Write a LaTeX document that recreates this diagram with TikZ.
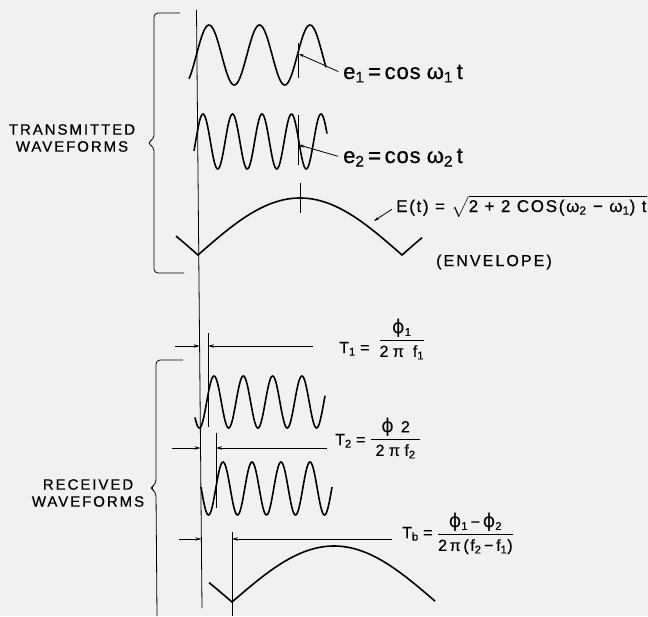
\documentclass[tikz,border=0pt]{standalone}
\usepackage{amsmath}
\usepackage{fontspec}
\setmainfont{Liberation Sans}[LetterSpace=4,FakeBold=0.6]
\newfontfamily\capsfont{Liberation Sans}[LetterSpace=13,FakeBold=0.6]
\newfontfamily\ratiofont{Liberation Sans}[LetterSpace=10,FakeBold=0.6]
\newfontfamily\grkfont{DejaVu Sans}
\usetikzlibrary{arrows.meta}
\definecolor{paper}{RGB}{241,241,240}
\newcommand{\sub}[1]{$_{\text{#1}}$}
\newcommand{\ph}{{\grkfont\fontsize{19}{19}\selectfont ϕ}}

\begin{document}
\begin{tikzpicture}[x=1pt,y=-1pt,
    wave/.style={line width=1.6pt},
    guide/.style={line width=0.8pt},
    dim/.style={line width=0.8pt,-{Stealth[length=6pt,width=3.5pt]}},
    leader/.style={line width=0.8pt,-{Stealth[length=5pt,width=3pt]},shorten <=5pt},
    caps/.style={align=center,font=\capsfont\fontsize{15}{17}\selectfont},
    formula/.style={inner sep=0pt,font=\fontsize{22}{24}\selectfont},
    ratio/.style={inner sep=0pt,font=\ratiofont\fontsize{16}{18}\selectfont}]
    \fill[paper] (0,0) rectangle (648,616);
    \useasboundingbox (0,0) rectangle (648,616);
    \draw[guide] (196.5,10) -- (202,608);
    \draw[guide,rounded corners=4pt] (180,13) -| (154,139) -- (147,143) -- (154,147) |- (184,273);
    \draw[guide,rounded corners=4pt] (183,360) -| (156,484) -- (150,488) -- (156,492) -- (157,616);
    \node[caps] (trans) at (72,138) {TRANSMITTED\\WAVEFORMS};
    \node[caps] (recv) at (88,493) {RECEIVED\\WAVEFORMS};

    \draw[wave] plot[domain=189:326,samples=120] (\x,{55-30*cos((\x-209)/50.5*360)});
    \draw[wave] plot[domain=194:327,samples=160] (\x,{141.5-27.5*cos((\x-203)/29.5*360)});
    \draw[wave] plot[domain=176:422,samples=247] (\x,{255-57*abs(cos((\x-300)/204*180))});
    \draw[guide] (298,43) -- (298,78);
    \draw[guide] (298,115) -- (298,165);
    \draw[guide] (300,183) -- (300,213);
    \coordinate (e1pt) at (299,54);
    \coordinate (e2pt) at (299,145);
    \coordinate (Ept) at (374,221);
    \node[formula,anchor=base west] (e1lab) at (343,79) {e\sub1\,=\,cos\;ω\sub1\,t};
    \node[formula,anchor=base west] (e2lab) at (343,163) {e\sub2\,=\,cos\;ω\sub2\,t};
    \node[ratio,font=\ratiofont\fontsize{17}{19}\selectfont,anchor=base west] (Elab) at (396,212) {E(t) = $\sqrt{\text{2 + 2 COS(ω\sub2 − ω\sub1) t}}$};
    \node[caps,font=\capsfont\fontsize{16}{18}\selectfont] (env) at (494,262) {(ENVELOPE)};
    \draw[leader] (e1lab.west) -- (e1pt);
    \draw[leader] (e2lab.west) -- (e2pt);
    \draw[leader] (Elab.west) -- (Ept);

    \draw[wave] plot[domain=195:325,samples=160] (\x,{402-26*cos((\x-214)/29.3*360)});
    \draw[wave] plot[domain=201:332,samples=160] (\x,{488.5-26.5*cos((\x-223)/29*360)});
    \draw[wave] plot[domain=209:435,samples=227] (\x,{602-56*abs(cos((\x-334)/204*180))});
    \draw[guide] (208,333) -- (208,427);
    \draw[guide] (216,433) -- (216,508);
    \draw[guide] (232,532) -- (232,616);
    \draw[dim] (175,346) -- (199.6,346);
    \draw[dim] (313,346) -- (208,346);
    \draw[dim] (172,448) -- (200.5,448);
    \draw[dim] (327,448) -- (216,448);
    \draw[dim] (179,539) -- (201.4,539);
    \draw[dim] (392,539) -- (232,539);
    \node[ratio,anchor=base west] (T1lab) at (339,353) {T\sub1\;=\;\;\raisebox{8pt}{$\displaystyle\frac{\text{\ph\sub1}}{\text{2\;π\;\;f\sub1}}$}};
    \node[ratio,anchor=base west] (T2lab) at (335,445) {T\sub2\;=\;\raisebox{1pt}{$\displaystyle\frac{\text{\;\ph\;\,2\;}}{\text{\;2\;π\;f\sub2\;}}$}};
    \node[ratio,anchor=base west] (Tblab) at (402,538) {T\sub b\;=\;\raisebox{-1pt}{$\displaystyle\frac{\text{\ph\sub1\,−\,\ph\sub2}}{\text{2\,π\,(f\sub2\,−\,f\sub1)}}$}};
\end{tikzpicture}
\end{document}
